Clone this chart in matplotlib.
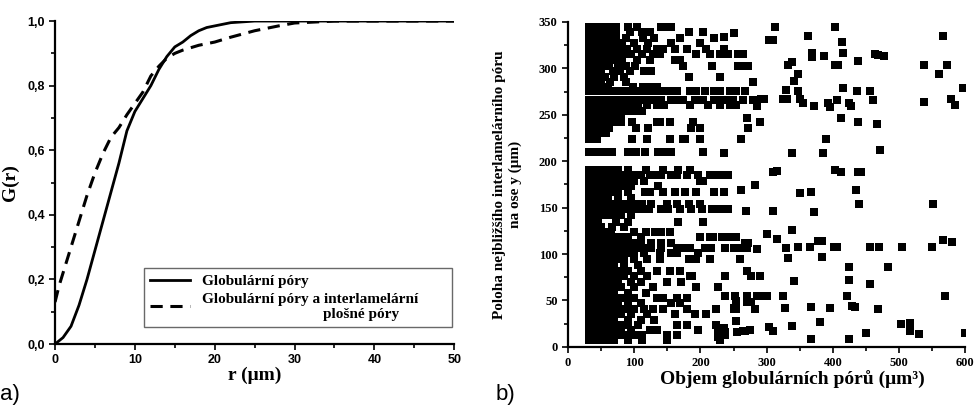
import matplotlib
matplotlib.use("Agg")
import matplotlib.pyplot as plt
from matplotlib.ticker import MultipleLocator, FuncFormatter

# a) kumulativni rozdeleni G(r)
r_glob = [0, 1, 2, 3, 4, 5, 6, 7, 8, 9, 10, 11, 12, 13, 14, 15, 16, 17, 18, 19, 20, 22, 25, 30, 50]
g_glob = [0.0, 0.02, 0.055, 0.12, 0.20, 0.29, 0.38, 0.47, 0.56, 0.66, 0.72, 0.76, 0.80, 0.85, 0.89, 0.92,
          0.935, 0.955, 0.97, 0.98, 0.985, 0.995, 1.0, 1.0, 1.0]
r_inter = [0, 0.5, 1, 2, 3, 4, 5, 6, 7, 8, 9, 10, 11, 12, 13, 14, 15, 16, 18, 20, 22, 25, 28, 30, 35, 50]
g_inter = [0.13, 0.18, 0.22, 0.30, 0.38, 0.46, 0.53, 0.59, 0.64, 0.67, 0.71, 0.745, 0.78, 0.83, 0.86, 0.885,
           0.90, 0.91, 0.925, 0.935, 0.95, 0.97, 0.985, 0.994, 1.0, 1.0]

# b) body - husta cast po radcich (y, seznam x)
row_y = [345, 339, 333, 327, 321, 315, 309, 303, 297, 291, 285, 280, 276, 266, 260, 254, 248, 242, 236, 230,
         224, 210, 190, 185, 179, 173, 167, 160, 154, 148, 142, 135, 129, 124, 118, 112, 107, 101, 95, 88,
         82, 76, 70, 64, 58, 53, 47, 41, 35, 29, 24, 18, 13, 7]
row_x = [
    [31, 38, 45, 52, 59, 66, 73, 91, 104, 141, 149, 156],
    [31, 38, 45, 52, 56, 63, 73, 94, 111, 124, 182, 204],
    [31, 38, 45, 52, 59, 62, 73, 88, 113, 130, 169, 220],
    [31, 38, 45, 52, 59, 66, 73, 82, 100, 121, 156, 199],
    [31, 38, 45, 52, 59, 66, 73, 80, 89, 104, 119, 134, 144, 161, 179, 209, 235],
    [31, 38, 45, 52, 59, 66, 73, 80, 87, 95, 111, 129, 139, 194, 214, 229, 242, 257, 265],
    [31, 38, 45, 52, 59, 66, 73, 82, 104, 124, 161, 169],
    [31, 38, 45, 52, 59, 62, 75, 88, 101, 174, 217, 257, 265, 272],
    [31, 38, 45, 50, 68, 78, 94, 114, 126],
    [31, 38, 45, 52, 56, 70, 84, 183, 229],
    [31, 38, 45, 50, 64, 88],
    [31, 38, 45, 52, 60, 98, 113, 124, 134],
    [31, 38, 45, 52, 59, 66, 73, 80, 87, 94, 101, 110, 120, 130, 141, 151, 156, 164, 184, 194, 207, 220,
     229, 244, 254, 267],
    [31, 38, 45, 52, 59, 66, 73, 80, 87, 94, 101, 110, 118, 128, 140, 155, 164, 174, 192, 204, 220, 229,
     239, 249, 265, 280],
    [31, 38, 45, 52, 59, 66, 73, 80, 87, 95, 105, 120, 134, 145, 184, 212, 229, 244, 254],
    [31, 38, 45, 52, 59, 66, 75, 88, 100, 112],
    [31, 38, 45, 52, 62, 72, 80],
    [31, 38, 45, 52, 56, 68, 80, 96, 134, 139, 154, 189],
    [31, 38, 45, 50, 62, 103, 121, 186, 199],
    [31, 38, 47, 58],
    [31, 38, 44, 96, 119, 154, 174, 177, 199],
    [31, 38, 45, 55, 66, 91, 103, 116, 136, 144, 156, 204],
    [31, 38, 45, 52, 59, 66, 76, 90, 118, 144, 166, 184],
    [31, 38, 45, 52, 59, 66, 73, 80, 87, 94, 100, 110, 124, 134, 141, 156, 164, 179, 197, 214, 224, 235,
     242],
    [31, 38, 45, 52, 59, 66, 73, 80, 88, 100, 115, 199, 204],
    [31, 38, 45, 52, 59, 66, 72, 85, 95, 136],
    [31, 38, 45, 52, 59, 66, 75, 90, 116, 124, 144, 161, 176, 194, 220, 235],
    [31, 38, 45, 52, 60, 75, 95],
    [31, 38, 45, 52, 59, 66, 73, 80, 87, 94, 100, 112, 126, 149, 164, 182, 199],
    [31, 38, 45, 52, 59, 66, 73, 80, 87, 94, 101, 110, 122, 141, 151, 169, 186, 202, 217, 229, 242],
    [31, 38, 45, 52, 59, 66, 73, 80, 95],
    [31, 38, 45, 72, 90, 166, 204],
    [31, 38, 45, 50, 66, 85],
    [31, 38, 45, 52, 59, 65, 100, 118, 131, 141, 154],
    [31, 38, 45, 52, 59, 66, 73, 80, 90, 110, 199, 214, 219, 232, 244, 254],
    [31, 38, 45, 52, 59, 66, 73, 80, 87, 94, 101, 110, 125, 140, 155, 267, 272],
    [31, 38, 45, 52, 59, 66, 73, 80, 87, 94, 101, 108, 115, 125, 140, 164, 174, 184, 207, 216, 237, 250,
     262, 270],
    [31, 38, 45, 52, 59, 66, 73, 80, 87, 94, 100, 115, 139, 156, 164, 197],
    [31, 38, 45, 52, 59, 66, 73, 80, 85, 100, 120, 139, 182, 189, 194, 214, 260],
    [31, 38, 45, 52, 59, 66, 70, 85, 105],
    [31, 38, 45, 52, 59, 66, 73, 80, 90, 110, 134, 154, 169, 270],
    [31, 38, 45, 52, 59, 66, 73, 80, 85, 100, 120, 184, 188, 237, 277, 290],
    [31, 38, 45, 52, 59, 66, 75, 95, 110, 149, 171],
    [31, 38, 45, 52, 59, 66, 73, 80, 100, 129, 194, 227],
    [31, 38, 45, 52, 59, 66, 70, 90, 118],
    [31, 38, 45, 52, 59, 66, 73, 80, 87, 94, 100, 134, 144, 164, 179],
    [31, 38, 45, 52, 59, 66, 75, 90, 110, 156, 169],
    [31, 38, 45, 52, 59, 66, 73, 80, 87, 94, 100, 115, 129, 144, 179, 224, 250, 254],
    [31, 38, 45, 52, 59, 66, 73, 80, 95, 120, 161, 192, 209],
    [31, 38, 45, 52, 59, 66, 70, 90, 110, 130],
    [31, 38, 45, 52, 59, 66, 73, 80, 90, 105, 164, 179, 224],
    [31, 38, 45, 52, 59, 66, 73, 80, 95, 124, 134, 197, 235],
    [31, 38, 45, 52, 59, 66, 73, 80, 87, 94, 100, 112, 149, 164, 227, 237],
    [31, 38, 45, 52, 59, 66, 70, 90, 111, 149, 229],
]

# b) body - ridke body vpravo
sparse_x = [312, 403, 566, 363, 250, 235, 309, 304, 414, 368, 368, 386, 415, 463, 468, 477, 438, 333, 339,
            403, 408, 537, 572, 348, 560, 341, 280, 416, 597, 329, 348, 436, 456, 324, 330, 406, 461, 538,
            579, 584, 350, 355, 371, 392, 395, 424, 428, 291, 296, 286, 412, 438, 467, 290, 270, 272, 262,
            390, 339, 385, 471, 235, 403, 413, 438, 443, 310, 316, 435, 350, 367, 282, 262, 440, 552, 371,
            309, 269, 338, 315, 301, 567, 580, 378, 384, 401, 406, 366, 348, 329, 332, 456, 469, 504, 550,
            285, 384, 424, 483, 424, 341, 456, 422, 570, 325, 300, 292, 285, 367, 328, 396, 429, 434, 468,
            270, 277, 282, 381, 339, 503, 516, 517, 530, 450, 599, 367, 425, 304, 309, 275, 264, 268, 254,
            255, 237, 252, 270, 254, 250, 254, 235, 227, 237, 227, 229]
sparse_y = [345, 345, 335, 335, 338, 334, 330, 331, 328, 316, 312, 313, 316, 315, 314, 313, 308, 304, 307,
            304, 304, 304, 304, 294, 294, 286, 285, 279, 279, 277, 276, 276, 276, 267, 267, 266, 266, 264,
            267, 260, 267, 263, 259, 263, 258, 263, 259, 267, 267, 259, 247, 242, 240, 242, 246, 236, 224,
            224, 209, 209, 212, 209, 190, 188, 188, 188, 188, 189, 169, 166, 167, 174, 169, 154, 154, 145,
            146, 146, 126, 116, 122, 115, 113, 114, 114, 108, 108, 108, 108, 106, 96, 108, 108, 108, 108,
            105, 97, 86, 86, 72, 71, 68, 55, 55, 55, 55, 55, 55, 43, 42, 42, 44, 43, 41,
            48, 48, 41, 27, 22, 25, 26, 17, 14, 15, 15, 8, 8, 21, 17, 18, 17, 17, 28,
            16, 55, 55, 55, 49, 42, 43, 20, 16, 16, 11, 8]

px, py = [], []
for y, xs in zip(row_y, row_x):
    for x in xs:
        px.append(x)
        py.append(y)
px += sparse_x
py += sparse_y

serif = "Liberation Serif"
fig = plt.figure(figsize=(9.76, 4.13), dpi=100)

# ---- a) ----
ax1 = fig.add_axes([0.0564, 0.167, 0.409, 0.782])
ax1.plot(r_glob, g_glob, color="black", lw=2, label="Globulární póry")
ax1.plot(r_inter, g_inter, color="black", lw=2.2, ls=(0, (4, 2.5)),
         label="Globulární póry a interlamelární\nplošné póry     ")
ax1.set_xlim(0, 50)
ax1.set_ylim(0, 1.0)
ax1.xaxis.set_major_locator(MultipleLocator(10))
ax1.xaxis.set_minor_locator(MultipleLocator(5))
ax1.yaxis.set_major_locator(MultipleLocator(0.2))
ax1.yaxis.set_minor_locator(MultipleLocator(0.1))
ax1.yaxis.set_major_formatter(FuncFormatter(lambda v, p: f"{v:.1f}".replace(".", ",")))
for s in ["top", "right"]:
    ax1.spines[s].set_visible(False)
for s in ["left", "bottom"]:
    ax1.spines[s].set_linewidth(1.6)
ax1.tick_params(which="both", direction="out", width=1.2)
ax1.tick_params(which="major", length=4, labelsize=9)
ax1.tick_params(which="minor", length=3)
for t in ax1.get_xticklabels() + ax1.get_yticklabels():
    t.set_family("Liberation Sans")
    t.set_weight("bold")
ax1.set_xlabel("r (μm)", family=serif, weight="bold", fontsize=14, labelpad=0)
ax1.set_ylabel("G(r)", family=serif, weight="bold", fontsize=14, labelpad=6)
leg = ax1.legend(loc="lower left", bbox_to_anchor=(0.223, 0.053, 0.772, 0.195), mode="expand",
                 frameon=True, fancybox=False, edgecolor="#444444", handlelength=2.6,
                 prop={"family": serif, "weight": "bold", "size": 11}, borderaxespad=0,
                 labelspacing=0.3)
leg.get_frame().set_linewidth(1.0)
leg.get_texts()[1].set_multialignment("right")

# ---- b) ----
ax2 = fig.add_axes([0.582, 0.160, 0.407, 0.787])
ax2.scatter(px, py, marker="s", s=30, color="black", linewidths=0)
ax2.set_xlim(0, 600)
ax2.set_ylim(0, 350)
ax2.xaxis.set_major_locator(MultipleLocator(100))
ax2.xaxis.set_minor_locator(MultipleLocator(50))
ax2.yaxis.set_major_locator(MultipleLocator(50))
ax2.yaxis.set_minor_locator(MultipleLocator(25))
for s in ["top", "right"]:
    ax2.spines[s].set_visible(False)
for s in ["left", "bottom"]:
    ax2.spines[s].set_linewidth(1.6)
ax2.tick_params(which="both", direction="out", width=1.2)
ax2.tick_params(which="major", length=4, labelsize=9)
ax2.tick_params(which="minor", length=3)
for t in ax2.get_xticklabels() + ax2.get_yticklabels():
    t.set_family(serif)
    t.set_weight("bold")
ax2.set_xlabel("Objem globulárních pórů (μm³)", family=serif, weight="bold", fontsize=14, labelpad=0)
ax2.xaxis.set_label_coords(0.565, -0.075)
ax2.set_ylabel("Poloha nejbližšího interlamelárního póru\nna ose y (μm)", family=serif, weight="bold",
               fontsize=11, linespacing=1.3)
ax2.yaxis.set_label_coords(-0.115, 0.5)

fig.text(0.0, 0.044, "a)", fontsize=16, family="Liberation Sans", va="center")
fig.text(0.508, 0.044, "b)", fontsize=16, family="Liberation Sans", va="center")

fig.savefig("out.png", dpi=100)
